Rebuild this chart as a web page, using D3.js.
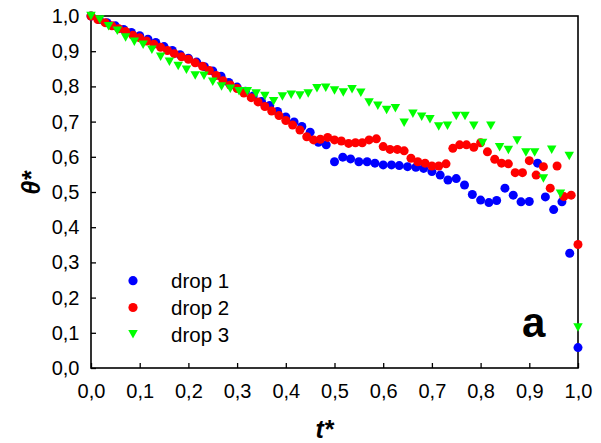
<!DOCTYPE html>
<html lang="en">
<head>
<meta charset="UTF-8">
<title>theta* vs t*</title>
<script src="https://d3js.org/d3.v7.min.js"></script>
<style>
  body { margin: 0; background: #fff; }
  text { font-family: "Liberation Sans", Arial, sans-serif; }
</style>
</head>
<body>
<div id="chart"></div>
<script>
// data
var tBlue = [0, .017, .033, .050, .067, .083, .100, .117, .133, .150, .167, .183, .200, .217, .233, .250, .267, .283, .300, .317,
  .333, .350, .367, .383, .400, .417, .433, .450, .467, .483, .500, .517, .533, .550, .567, .583, .600, .617, .633, .650,
  .667, .683, .700, .717, .733, .750, .767, .783, .800, .817, .833, .850, .867, .883, .900, .917, .933, .950, .967, .983, 1.000];
var thetaBlue = [1.000, 0.990, 0.981, 0.972, 0.962, 0.953, 0.944, 0.934, 0.925, 0.913, 0.902, 0.890, 0.880, 0.869, 0.856, 0.844,
  0.829, 0.811, 0.798, 0.786, 0.773, 0.757, 0.746, 0.729, 0.713, 0.699, 0.686, 0.670, 0.641, 0.634, 0.586, 0.599, 0.594, 0.586,
  0.586, 0.582, 0.577, 0.577, 0.575, 0.572, 0.570, 0.567, 0.558, 0.548, 0.534, 0.538, 0.520, 0.493, 0.477, 0.470, 0.476, 0.511,
  0.491, 0.472, 0.473, 0.582, 0.486, 0.450, 0.472, 0.326, 0.058];

var tRed = [0, .014, .029, .043, .057, .071, .086, .100, .114, .129, .143, .157, .171, .186, .200, .214, .229, .243, .257, .271,
  .286, .300, .314, .329, .343, .357, .371, .386, .400, .414, .429, .443, .457, .471, .486, .500, .514, .529, .543, .557,
  .571, .586, .600, .614, .629, .643, .657, .671, .686, .700, .714, .729, .743, .757, .771, .786, .800, .814, .829, .843,
  .857, .871, .886, .900, .914, .929, .943, .957, .971, .986, 1.000];
var thetaRed = [1.000, 0.990, 0.981, 0.972, 0.964, 0.956, 0.945, 0.938, 0.929, 0.920, 0.911, 0.902, 0.893, 0.884, 0.877, 0.867,
  0.857, 0.845, 0.831, 0.816, 0.804, 0.794, 0.781, 0.768, 0.756, 0.743, 0.730, 0.717, 0.703, 0.690, 0.676, 0.657, 0.648, 0.650,
  0.655, 0.648, 0.645, 0.638, 0.640, 0.640, 0.648, 0.651, 0.629, 0.621, 0.621, 0.617, 0.596, 0.586, 0.582, 0.574, 0.574, 0.580,
  0.624, 0.634, 0.634, 0.627, 0.640, 0.614, 0.593, 0.582, 0.580, 0.555, 0.555, 0.589, 0.548, 0.572, 0.511, 0.574, 0.487, 0.491,
  0.351];

var tGreen = [0, .018, .036, .054, .071, .089, .107, .125, .143, .161, .179, .196, .214, .232, .250, .268, .286, .304, .321, .339,
  .357, .375, .393, .411, .429, .446, .464, .482, .500, .518, .536, .554, .571, .589, .607, .625, .643, .661, .679, .696,
  .714, .732, .750, .768, .786, .804, .821, .839, .857, .875, .893, .911, .929, .946, .964, .982, 1.000];
var thetaGreen = [1.000, 0.990, 0.971, 0.958, 0.939, 0.927, 0.918, 0.904, 0.884, 0.870, 0.858, 0.847, 0.831, 0.830, 0.813, 0.800,
  0.793, 0.786, 0.786, 0.780, 0.773, 0.758, 0.771, 0.776, 0.774, 0.780, 0.795, 0.796, 0.788, 0.783, 0.792, 0.782, 0.754, 0.745,
  0.733, 0.738, 0.697, 0.722, 0.714, 0.707, 0.686, 0.688, 0.716, 0.716, 0.688, 0.639, 0.688, 0.627, 0.619, 0.646, 0.612, 0.612,
  0.538, 0.620, 0.495, 0.602, 0.115];

var xTicks = [0, 0.1, 0.2, 0.3, 0.4, 0.5, 0.6, 0.7, 0.8, 0.9, 1.0];
var yTicks = [0, 0.1, 0.2, 0.3, 0.4, 0.5, 0.6, 0.7, 0.8, 0.9, 1.0];
var seriesNames = ["drop 1", "drop 2", "drop 3"];

var margin = {top: 16, right: 23, bottom: 75, left: 91},
  width = 601 - margin.left - margin.right,
  height = 443 - margin.top - margin.bottom;

var svg = d3.select("#chart")
  .append("svg")
    .attr("width", 601)
    .attr("height", 443)
  .append("g")
    .attr("transform", "translate(" + margin.left + "," + margin.top + ")");

var x = d3.scaleLinear().domain([0, 1]).range([0, width]);
var y = d3.scaleLinear().domain([0, 1]).range([height, 0]);

var fmt = function(d) { return d.toFixed(1).replace(".", ","); };

// frame
svg.append("rect")
  .attr("width", width)
  .attr("height", height)
  .attr("fill", "none")
  .attr("stroke", "#000")
  .attr("stroke-width", 1.6);

// axes, ticks pointing inward
var xAxis = svg.append("g")
  .attr("transform", "translate(0," + height + ")")
  .call(d3.axisBottom(x).tickValues(xTicks).tickFormat(fmt).tickSize(-5).tickSizeOuter(0).tickPadding(16));
var yAxis = svg.append("g")
  .call(d3.axisLeft(y).tickValues(yTicks).tickFormat(fmt).tickSize(-5).tickSizeOuter(0).tickPadding(11.5));

[xAxis, yAxis].forEach(function(a) {
  a.select(".domain").remove();
  a.selectAll("line").attr("stroke", "#000").attr("stroke-width", 1.3);
  a.selectAll("text")
    .style("font-family", '"Liberation Sans", Arial, sans-serif')
    .style("font-size", "20px")
    .attr("fill", "#000");
});

// down-pointing triangle
var triDown = {
  draw: function(ctx, size) {
    var w = 9.5, h = 8.5;
    ctx.moveTo(-w / 2, -h / 2);
    ctx.lineTo(w / 2, -h / 2);
    ctx.lineTo(0, h / 2);
    ctx.closePath();
  }
};

var blueData = d3.zip(tBlue, thetaBlue);
var redData = d3.zip(tRed, thetaRed);
var greenData = d3.zip(tGreen, thetaGreen);

svg.selectAll(".blue")
  .data(blueData)
  .enter().append("circle")
    .attr("class", "blue")
    .attr("cx", function(d) { return x(d[0]); })
    .attr("cy", function(d) { return y(d[1]); })
    .attr("r", 4.5)
    .attr("fill", "#0000ff");

svg.selectAll(".red")
  .data(redData)
  .enter().append("circle")
    .attr("class", "red")
    .attr("cx", function(d) { return x(d[0]); })
    .attr("cy", function(d) { return y(d[1]); })
    .attr("r", 4.5)
    .attr("fill", "#ff0000");

svg.selectAll(".green")
  .data(greenData)
  .enter().append("path")
    .attr("class", "green")
    .attr("d", d3.symbol().type(triDown))
    .attr("transform", function(d) { return "translate(" + x(d[0]) + "," + y(d[1]) + ")"; })
    .attr("fill", "#00ff00");

// legend
var legend = svg.append("g").attr("transform", "translate(42,264.7)");
var colors = ["#0000ff", "#ff0000", "#00ff00"];
seriesNames.forEach(function(name, i) {
  var row = legend.append("g").attr("transform", "translate(0," + (i * 26.8) + ")");
  if (i < 2) {
    row.append("circle").attr("r", 4.6).attr("fill", colors[i]);
  } else {
    row.append("path").attr("d", d3.symbol().type(triDown)).attr("fill", colors[i]);
  }
  row.append("text")
    .attr("x", 38)
    .attr("dy", "0.36em")
    .style("font-size", "20.5px")
    .text(name);
});

// axis titles
svg.append("text")
  .attr("x", width / 2 - 10)
  .attr("y", height + 70)
  .attr("text-anchor", "middle")
  .style("font-size", "25px")
  .style("font-weight", "bold")
  .style("font-style", "italic")
  .text("t*");

svg.append("text")
  .attr("transform", "translate(" + (40 - margin.left) + "," + (183 - margin.top) + ") rotate(-90)")
  .attr("text-anchor", "middle")
  .style("font-size", "25px")
  .style("font-weight", "bold")
  .style("font-style", "italic")
  .text("θ*");

// panel letter
svg.append("text")
  .attr("x", 522 - margin.left)
  .attr("y", 337 - margin.top)
  .style("font-size", "42px")
  .style("font-weight", "bold")
  .text("a");
</script>
</body>
</html>
